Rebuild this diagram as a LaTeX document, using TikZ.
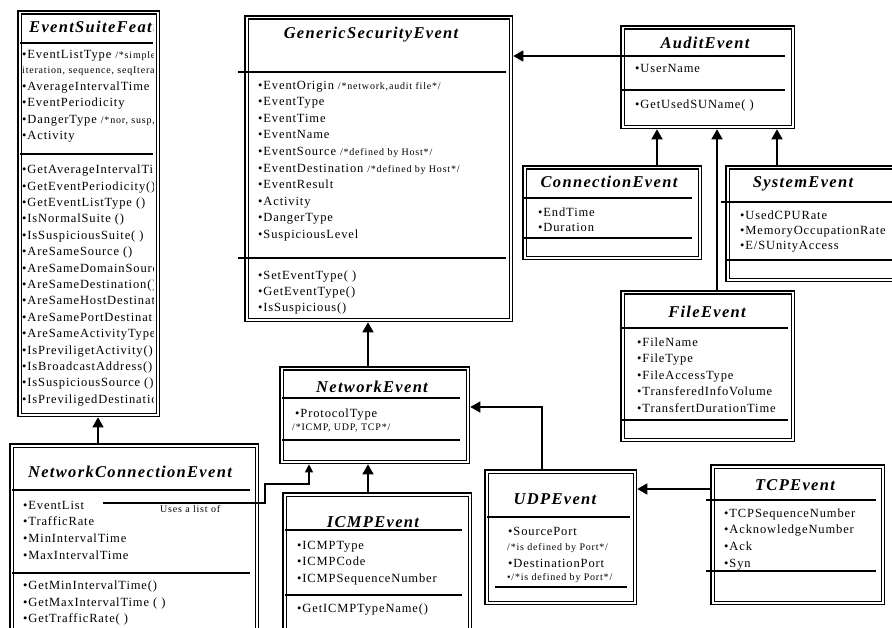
\documentclass[tikz,border=0pt]{standalone}
\usepackage{fontspec}
\setmainfont{Liberation Serif}
\newfontfamily\titlefam[LetterSpace=8]{Liberation Serif}
\newfontfamily\attrfam[LetterSpace=7]{Liberation Serif}
\newfontfamily\cmtfam[LetterSpace=8]{Liberation Serif}
\usetikzlibrary{arrows.meta}

\tikzset{
 classbox/.style={draw, line width=1.4pt, double=white, double distance=1.8pt, fill=white,
   inner sep=0pt, outer sep=2.3pt, anchor=north west},
 sepline/.style={line width=1.3pt},
 ttl/.style={font=\titlefam\bfseries\itshape\fontsize{16.5}{18}\selectfont, inner sep=0pt,
   anchor=center, text height=11pt, text depth=0pt},
 attr/.style={font=\attrfam\fontsize{12.5}{15}\selectfont, inner sep=0pt, anchor=west,
   text height=8.3pt, text depth=0pt},
 cmt/.style={font=\cmtfam\fontsize{10}{12}\selectfont, inner sep=0pt, anchor=west,
   text height=6.6pt, text depth=0pt},
 inh/.style={line width=1.5pt, -{Triangle[length=10pt,width=11pt]}},
 uses/.style={line width=1.1pt, -{Triangle[length=8pt,width=8pt]}},
}
\newcommand\cmnt[1]{{\cmtfam\fontsize{10}{12}\selectfont #1}}
\newcommand\classbox[5]{\node[classbox, minimum width={(#4-#2-4.6)*1pt},
   minimum height={(#5-#3-4.6)*1pt}] (#1) at ({#2+2.3},{#3+2.3}) {};}
\newcommand\sepl[3]{\draw[sepline] (#1,#3) -- (#2,#3);}
\newcommand\classitems[6]{\foreach \t [count=\i] in {#6} {\node[#2] (#1\i) at ({#3},{#4+(\i-1)*(#5)}) {\t};}}

\begin{document}
\begin{tikzpicture}[x=1pt,y=-1pt]
\useasboundingbox (0,0) rectangle (892,628);
\fill[white] (0,0) rectangle (892,628);
\clip (0,0) rectangle (892,628);

% ---------- boxes ----------
\classbox{esf}{15}{8}{158}{415}
\classbox{gse}{242}{13}{511}{320}
\classbox{ae}{618}{23}{793}{127}
\classbox{ce}{520}{163}{700}{258}
\classbox{se}{723}{163}{912}{280}
\classbox{fe}{618}{288}{793}{440}
\classbox{ne}{277}{364}{468}{462}
\classbox{nce}{7}{441}{257}{660}
\classbox{icmp}{280}{490}{470}{660}
\classbox{udp}{482}{467}{635}{603}
\classbox{tcp}{708}{462}{883}{603}

% ---------- EventSuiteFeature (text clipped by the box, as in the original) ----------
\begin{scope}
\clip (18,11) rectangle (153.5,411);
\node[ttl, anchor=west] (esf-t) at (29,27) {EventSuiteFeature};
\node[attr] (esf-a1) at (22,54) {•EventListType \cmnt{/*simple,}};
\node[cmt] (esf-a2) at (22,70) {iteration, sequence, seqIteration*/};
\node[attr] (esf-a3) at (22,86) {•AverageIntervalTime};
\node[attr] (esf-a4) at (22,102) {•EventPeriodicity};
\node[attr] (esf-a5) at (22,119) {•DangerType \cmnt{/*nor, susp, attack*/}};
\node[attr] (esf-a6) at (22,135) {•Activity};
\classitems{esf-m}{attr}{22}{169.5}{16.4}{•GetAverageIntervalTime (), •GetEventPeriodicity(), •GetEventListType (), •IsNormalSuite (), •IsSuspiciousSuite( ), •AreSameSource (), •AreSameDomainSource(), •AreSameDestination(), •AreSameHostDestination(), •AreSamePortDestination (), •AreSameActivityType(), •IsPreviligetActivity(), •IsBroadcastAddress(), •IsSuspiciousSource (), •IsPreviligedDestination()}
\end{scope}
\sepl{20}{153}{43}
\sepl{20}{153}{154}

% ---------- GenericSecurityEvent ----------
\node[ttl] (gse-t) at (371,33) {GenericSecurityEvent};
\sepl{238}{506}{72}
\classitems{gse-a}{attr}{258}{85}{16.6}{•EventOrigin \cmnt{/*network,audit file*/}, •EventType, •EventTime, •EventName, •EventSource \cmnt{/*defined by Host*/}, •EventDestination \cmnt{/*defined by Host*/}, •EventResult, •Activity, •DangerType, •SuspiciousLevel}
\sepl{238}{506}{258}
\classitems{gse-m}{attr}{258}{275}{16}{•SetEventType( ), •GetEventType(), •IsSuspicious()}

% ---------- AuditEvent ----------
\node[ttl] (ae-t) at (705,43) {AuditEvent};
\sepl{622}{785}{56}
\node[attr] (ae-a1) at (635,68) {•UserName};
\sepl{622}{785}{90}
\node[attr] (ae-m1) at (635,104) {•GetUsedSUName( )};

% ---------- ConnectionEvent ----------
\node[ttl] (ce-t) at (609,182) {ConnectionEvent};
\sepl{524}{692}{198}
\classitems{ce-a}{attr}{538}{212}{15}{•EndTime, •Duration}
\sepl{524}{692}{238}

% ---------- SystemEvent ----------
\node[ttl] (se-t) at (803,182) {SystemEvent};
\sepl{721}{892}{202}
\classitems{se-a}{attr}{740}{215}{15}{•UsedCPURate, •MemoryOccupationRate, •E/SUnityAccess}
\sepl{727}{892}{260}

% ---------- FileEvent ----------
\node[ttl] (fe-t) at (707,312) {FileEvent};
\sepl{622}{788}{328}
\classitems{fe-a}{attr}{637}{342}{16.5}{•FileName, •FileType, •FileAccessType, •TransferedInfoVolume, •TransfertDurationTime}
\sepl{622}{788}{420}

% ---------- NetworkEvent ----------
\node[ttl] (ne-t) at (372,387) {NetworkEvent};
\sepl{282}{460}{398}
\node[attr] (ne-a1) at (295,413) {•ProtocolType};
\node[cmt] (ne-a2) at (292,427) {/*ICMP, UDP, TCP*/};
\sepl{282}{460}{440}

% ---------- NetworkConnectionEvent ----------
\node[ttl] (nce-t) at (130,472) {NetworkConnectionEvent};
\sepl{12}{250}{490}
\classitems{nce-a}{attr}{23}{505}{16.7}{•EventList, •TrafficRate, •MinIntervalTime, •MaxIntervalTime}
\sepl{12}{250}{573}
\classitems{nce-m}{attr}{23}{585}{16.9}{•GetMinIntervalTime(), •GetMaxIntervalTime ( ), •GetTrafficRate( )}
\node[cmt] (uses-l) at (160,509) {Uses a list of};

% ---------- ICMPEvent ----------
\node[ttl] (icmp-t) at (373,522) {ICMPEvent};
\sepl{285}{462}{530}
\classitems{icmp-a}{attr}{297}{545}{16.5}{•ICMPType, •ICMPCode, •ICMPSequenceNumber}
\sepl{285}{462}{595}
\node[attr] (icmp-m1) at (297,608) {•GetICMPTypeName()};

% ---------- UDPEvent ----------
\node[ttl] (udp-t) at (555,499) {UDPEvent};
\sepl{487}{630}{517}
\node[attr] (udp-a1) at (508,531) {•SourcePort};
\node[cmt] (udp-a2) at (507,547) {/*is defined by Port*/};
\node[attr] (udp-a3) at (508,563) {•DestinationPort};
\node[cmt] (udp-a4) at (507,577) {•/*is defined by Port*/};
\sepl{495}{627}{587}

% ---------- TCPEvent ----------
\node[ttl] (tcp-t) at (795,485) {TCPEvent};
\sepl{706}{876}{500}
\classitems{tcp-a}{attr}{724}{513}{16.7}{•TCPSequenceNumber, •AcknowledgeNumber, •Ack, •Syn}
\sepl{706}{876}{571}

% ---------- connector coordinates ----------
\coordinate (cx657) at (657,0);
\coordinate (cx717) at (717,0);
\coordinate (cx777) at (777,0);
\coordinate (cx368) at (368,0);
\coordinate (cx98) at (98,0);
\coordinate (cx542) at (542,0);
\coordinate (cx309) at (309,0);
\coordinate (cx265) at (265,0);
\coordinate (cy56) at (0,56);
\coordinate (cy407) at (0,407);
\coordinate (cy489) at (0,489);
\coordinate (cy484) at (0,484);
\coordinate (usestart) at (103,503);

% ---------- connectors ----------
\draw[inh] (ae.west |- cy56) -- (gse.east |- cy56);
\draw[inh] (ce.north -| cx657) -- (ae.south -| cx657);
\draw[inh] (fe.north -| cx717) -- (ae.south -| cx717);
\draw[inh] (se.north -| cx777) -- (ae.south -| cx777);
\draw[inh] (ne.north -| cx368) -- (gse.south -| cx368);
\draw[inh] (nce.north -| cx98) -- (esf.south -| cx98);
\draw[inh] (icmp.north -| cx368) -- (ne.south -| cx368);
\draw[inh] (udp.north -| cx542) |- (ne.east |- cy407);
\draw[inh] (tcp.west |- cy489) -- (udp.east |- cy489);
\draw[uses] (usestart) -- (usestart -| cx265) |- (cx309 |- cy484) -- (ne.south -| cx309);
\end{tikzpicture}
\end{document}
